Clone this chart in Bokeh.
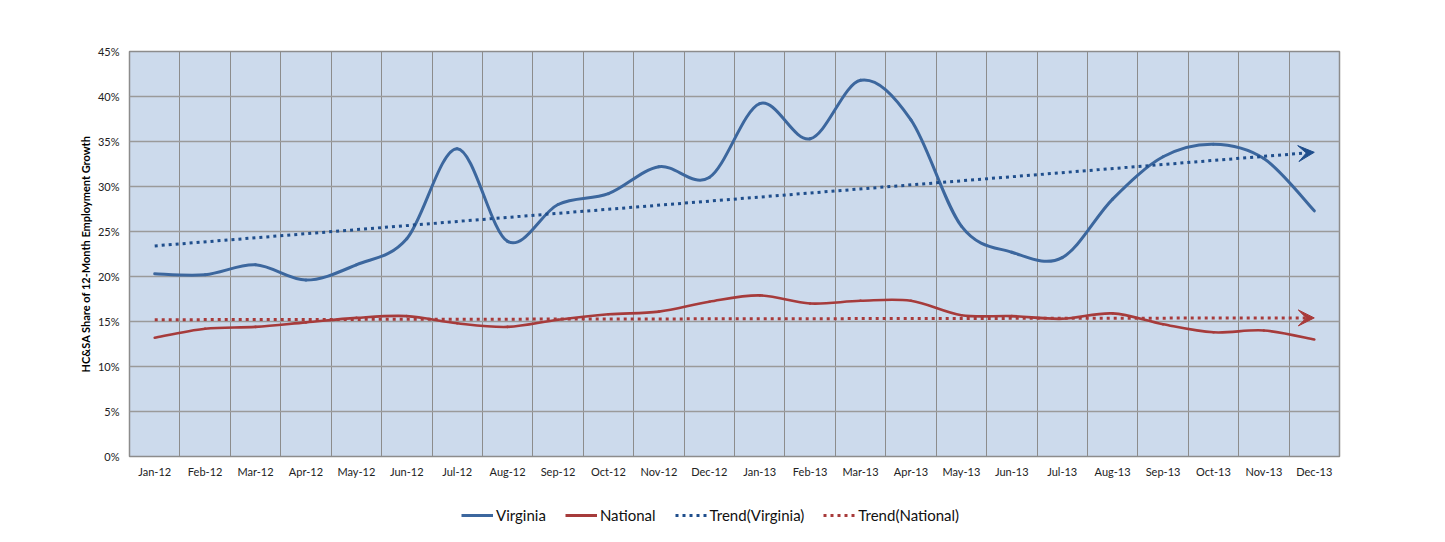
import numpy as np
from bokeh.plotting import figure
from bokeh.layouts import column
from bokeh.models import (Range1d, FixedTicker, Legend, LegendItem, Arrow, VeeHead)
from bokeh.embed import file_html
from bokeh.resources import INLINE

months = ["Jan-12", "Feb-12", "Mar-12", "Apr-12", "May-12", "Jun-12", "Jul-12", "Aug-12",
          "Sep-12", "Oct-12", "Nov-12", "Dec-12", "Jan-13", "Feb-13", "Mar-13", "Apr-13",
          "May-13", "Jun-13", "Jul-13", "Aug-13", "Sep-13", "Oct-13", "Nov-13", "Dec-13"]
virginia = [20.3, 20.2, 21.3, 19.6, 21.3, 24.2, 34.2, 23.9, 28.0, 29.2, 32.2, 31.0,
            39.2, 35.3, 41.8, 37.4, 25.6, 22.7, 22.1, 28.6, 33.3, 34.7, 33.1, 27.3]
national = [13.2, 14.2, 14.4, 14.9, 15.4, 15.6, 14.8, 14.4, 15.2, 15.8, 16.1, 17.2,
            17.9, 17.0, 17.3, 17.3, 15.7, 15.6, 15.3, 15.9, 14.7, 13.8, 14.0, 13.0]
trend_virginia = [23.4, 33.8]
trend_national = [15.2, 15.4]
y_ticks = [0, 5, 10, 15, 20, 25, 30, 35, 40, 45]
y_tick_labels = ["0%", "5%", "10%", "15%", "20%", "25%", "30%", "35%", "40%", "45%"]
legend_labels = ["Virginia", "National", "Trend(Virginia)", "Trend(National)"]

VA_COLOR = "#3c679e"
NAT_COLOR = "#a63b3b"
VA_TREND = "#1f4e8c"
NAT_TREND = "#a83a3a"
FONT = "Lato"


def smooth(ys):
    y = np.asarray(ys, dtype=float)
    x = np.arange(len(y), dtype=float)
    n = len(y)
    d = dict(x0=[], y0=[], x1=[], y1=[], cx0=[], cy0=[], cx1=[], cy1=[])
    for i in range(n - 1):
        a = max(i - 1, 0)
        b = min(i + 2, n - 1)
        d["x0"].append(x[i]); d["y0"].append(y[i])
        d["x1"].append(x[i + 1]); d["y1"].append(y[i + 1])
        d["cx0"].append(x[i] + (x[i + 1] - x[a]) / 6)
        d["cy0"].append(y[i] + (y[i + 1] - y[a]) / 6)
        d["cx1"].append(x[i + 1] - (x[b] - x[i]) / 6)
        d["cy1"].append(y[i + 1] - (y[b] - y[i]) / 6)
    return d


p = figure(width=1445, height=490, output_backend="svg", toolbar_location=None,
           x_range=Range1d(-0.5, len(months) - 0.5), y_range=Range1d(0, 45),
           min_border_left=129, min_border_right=106, min_border_top=51, min_border_bottom=34,
           background_fill_color="#ccdaec", border_fill_color="white")
p.outline_line_color = "#8c8c8c"
p.outline_line_width = 1.5

# grids
p.xgrid.ticker = FixedTicker(ticks=[i - 0.5 for i in range(len(months) + 1)])
p.xgrid.grid_line_color = "#8c8c8c"
p.xgrid.grid_line_width = 1
p.ygrid.ticker = FixedTicker(ticks=y_ticks)
p.ygrid.grid_line_color = "#9a9a9a"
p.ygrid.grid_line_width = 1.5

# axes
p.xaxis.ticker = FixedTicker(ticks=list(range(len(months))))
p.xaxis.major_label_overrides = {i: m for i, m in enumerate(months)}
p.yaxis.ticker = FixedTicker(ticks=y_ticks)
p.yaxis.major_label_overrides = {t: l for t, l in zip(y_ticks, y_tick_labels)}
for ax in (p.xaxis[0], p.yaxis[0]):
    ax.axis_line_color = None
    ax.major_tick_line_color = None
    ax.minor_tick_line_color = None
    ax.major_tick_out = 0
    ax.major_tick_in = 0
    ax.minor_tick_out = 0
    ax.major_label_text_font = FONT
    ax.major_label_text_font_size = "11px"
    ax.major_label_text_color = "#222222"
p.xaxis.major_label_standoff = 8
p.yaxis.major_label_standoff = 10
p.yaxis.axis_label = "HC&SA Share of 12-Month Employment Growth"
p.yaxis.axis_label_text_font = FONT
p.yaxis.axis_label_text_font_size = "11px"
p.yaxis.axis_label_text_font_style = "bold"
p.yaxis.axis_label_text_color = "black"
p.yaxis.axis_label_standoff = 3

# data lines
p.bezier(source=smooth(virginia), x0="x0", y0="y0", x1="x1", y1="y1",
         cx0="cx0", cy0="cy0", cx1="cx1", cy1="cy1",
         line_color=VA_COLOR, line_width=3, line_cap="round")
p.bezier(source=smooth(national), x0="x0", y0="y0", x1="x1", y1="y1",
         cx0="cx0", cy0="cy0", cx1="cx1", cy1="cy1",
         line_color=NAT_COLOR, line_width=2.6, line_cap="round")

# trend arrows
last = len(months) - 1
p.add_layout(Arrow(x_start=0, y_start=trend_virginia[0], x_end=last, y_end=trend_virginia[1],
                   line_color=VA_TREND, line_width=3, line_dash="3 4",
                   end=VeeHead(size=16, fill_color=VA_TREND, line_color=VA_TREND, line_width=1)))
p.add_layout(Arrow(x_start=0, y_start=trend_national[0], x_end=last, y_end=trend_national[1],
                   line_color=NAT_TREND, line_width=3, line_dash="3 4",
                   end=VeeHead(size=16, fill_color=NAT_TREND, line_color=NAT_TREND, line_width=1)))

# legend figure (proxy renderers sit outside the visible range)
q = figure(width=1445, height=52, output_backend="svg", toolbar_location=None,
           x_axis_type=None, y_axis_type=None, x_range=Range1d(0, 1), y_range=Range1d(0, 1),
           min_border=0, border_fill_color="white", background_fill_color="white")
q.outline_line_color = None
q.grid.visible = False
hidden = dict(x=[5, 6], y=[5, 6])
r1 = q.line(line_color=VA_COLOR, line_width=3, **hidden)
r2 = q.line(line_color=NAT_COLOR, line_width=3, **hidden)
r3 = q.line(line_color=VA_TREND, line_width=3, line_dash="3 4", **hidden)
r4 = q.line(line_color=NAT_TREND, line_width=3, line_dash="3 4", **hidden)
legend = Legend(items=[LegendItem(label=lab, renderers=[r])
                       for lab, r in zip(legend_labels, [r1, r2, r3, r4])],
                orientation="horizontal", location=(332, 17),
                label_text_font=FONT, label_text_font_size="15px", label_text_color="#111111",
                glyph_width=32, label_standoff=3, spacing=19, border_line_color=None,
                background_fill_alpha=0, margin=0, padding=4)
q.add_layout(legend, "center")

layout = column(p, q, spacing=0)
open("out.html", "w").write(file_html(layout, INLINE))
